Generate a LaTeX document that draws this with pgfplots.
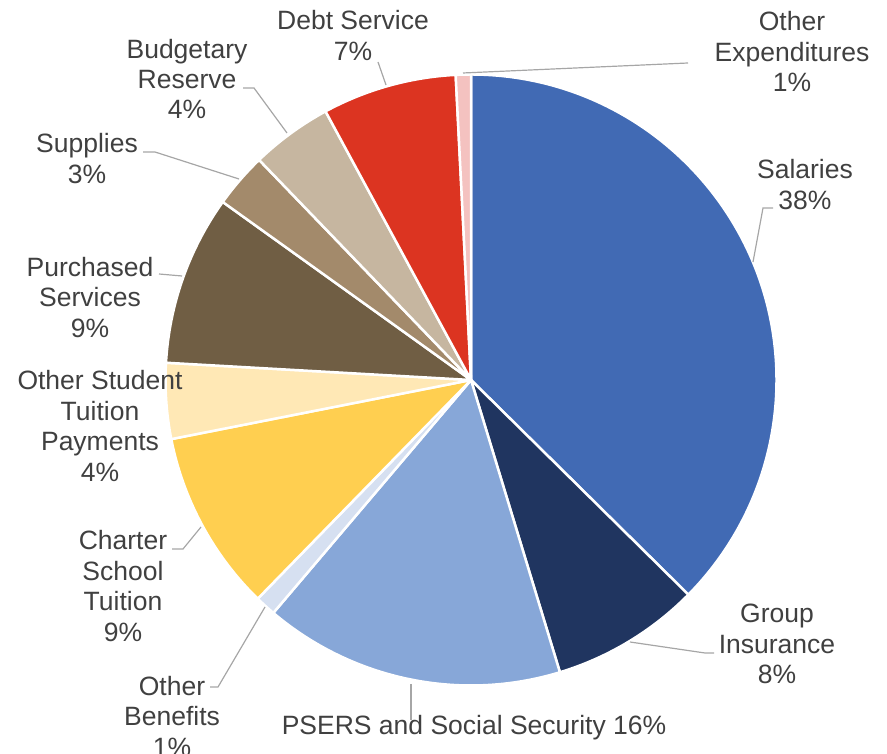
\documentclass[border=0pt]{standalone}
\usepackage{pgfplots}
\pgfplotsset{compat=1.18}
\usepackage{pgfplotstable}
\usepackage{fontspec}
\setmainfont{Liberation Sans}
\definecolor{pie0}{HTML}{416AB4}
\definecolor{pie1}{HTML}{203560}
\definecolor{pie2}{HTML}{87A7D8}
\definecolor{pie3}{HTML}{D6E0F1}
\definecolor{pie4}{HTML}{FFCF50}
\definecolor{pie5}{HTML}{FFE8B5}
\definecolor{pie6}{HTML}{705E44}
\definecolor{pie7}{HTML}{A38A6B}
\definecolor{pie8}{HTML}{C6B6A0}
\definecolor{pie9}{HTML}{DC3421}
\definecolor{pie10}{HTML}{F4C2C0}
\definecolor{txt}{HTML}{404040}
\definecolor{lead}{HTML}{A6A6A6}
\pgfplotstableread{
category value
Salaries 37.4
GroupInsurance 7.9
PSERS 15.9
OtherBenefits 1.1
Charter 9.6
OtherStudent 4.0
Purchased 9.0
Supplies 2.9
Budgetary 4.3
Debt 7.1
OtherExp 0.8
}\piedata
\begin{document}
\begin{tikzpicture}[
  lbl/.style={align=center, text=txt, inner sep=0pt, font=\fontsize{26.6}{30.6}\selectfont},
  ld/.style={draw=lead, line width=1.2pt}]
\begin{axis}[at={(0,0)}, anchor=south west, scale only axis, width=887bp, height=754bp,
  xmin=0, xmax=887, ymin=0, ymax=754, hide axis, clip=false]
\gdef\startang{90}
\pgfplotsinvokeforeach{0,...,10}{
  \pgfplotstablegetelem{#1}{value}\of\piedata
  \pgfmathsetmacro\endang{\startang-3.6*\pgfplotsretval}
  \edef\temp{\noexpand\fill[pie#1, draw=white, line width=2.5pt, line join=round] (axis cs:471,374) -- ++(\startang:305.5bp) arc[start angle=\startang, end angle=\endang, radius=305.5bp] -- cycle;}
  \temp
  \xdef\startang{\endang}
}
% leader lines
\draw[ld] (axis cs:463,681) -- (axis cs:688,691);
\draw[ld] (axis cs:753,492) -- (axis cs:763,546) -- (axis cs:773,546);
\draw[ld] (axis cs:630,112) -- (axis cs:705,101) -- (axis cs:714,101);
\draw[ld] (axis cs:411,70) -- (axis cs:411,34);
\draw[ld] (axis cs:265,147) -- (axis cs:218,67) -- (axis cs:210,67);
\draw[ld] (axis cs:201,227) -- (axis cs:183,205) -- (axis cs:172,205);
\draw[ld] (axis cs:182,478) -- (axis cs:159,480);
\draw[ld] (axis cs:239,575) -- (axis cs:155,602) -- (axis cs:143,602);
\draw[ld] (axis cs:287,621) -- (axis cs:254,666) -- (axis cs:243,666);
\draw[ld] (axis cs:386,669) -- (axis cs:378,692);
% labels
\node[lbl] at (axis cs:792,702.5) {Other\\Expenditures\\1\%};
\node[lbl] at (axis cs:805,569.5) {Salaries\\38\%};
\node[lbl] at (axis cs:777,110) {Group\\Insurance\\8\%};
\node[lbl] at (axis cs:474,26) {PSERS and Social Security 16\%};
\node[lbl] at (axis cs:172,38) {Other\\Benefits\\1\%};
\node[lbl] at (axis cs:123,168) {Charter\\School\\Tuition\\9\%};
\node[lbl] at (axis cs:100,328) {Other Student\\Tuition\\Payments\\4\%};
\node[lbl] at (axis cs:90,456.5) {Purchased\\Services\\9\%};
\node[lbl] at (axis cs:87,595.5) {Supplies\\3\%};
\node[lbl] at (axis cs:187,675) {Budgetary\\Reserve\\4\%};
\node[lbl] at (axis cs:353,718.5) {Debt Service\\7\%};
\end{axis}
\pgfresetboundingbox
\useasboundingbox (0,0) rectangle (887bp,754bp);
\end{tikzpicture}
\end{document}
